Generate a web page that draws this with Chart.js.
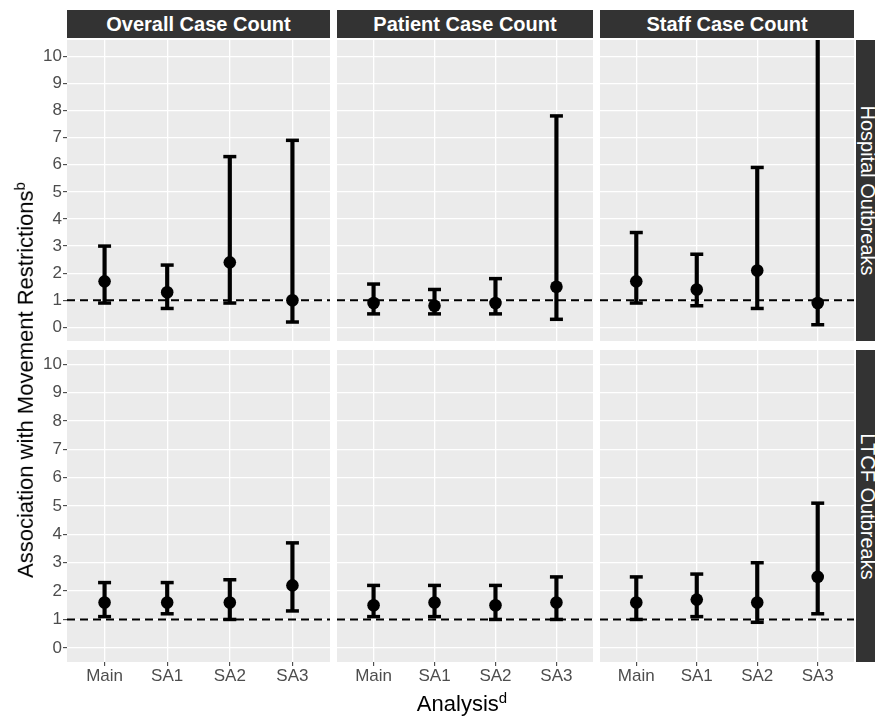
<!DOCTYPE html>
<html>
<head>
<meta charset="utf-8">
<script src="https://cdn.jsdelivr.net/npm/chart.js@4.4.1/dist/chart.umd.min.js"></script>
<style>
  body { margin: 0; background: #fff; }
  #wrap { position: relative; width: 875px; height: 717px; overflow: hidden; font-family: "Liberation Sans", Arial, sans-serif; }
  .box { position: absolute; }
  .strip { position: absolute; background: #333333; color: #fff; display: flex; align-items: center; justify-content: center; white-space: nowrap; }
  .strip-top { font-weight: bold; font-size: 20px; }
  .strip-side { overflow: visible; }
  .strip-side span { display: block; transform: rotate(90deg); font-size: 20px; }
  .title { position: absolute; white-space: nowrap; color: #000; font-size: 22px; z-index: 5; }
  .title sup { font-size: 15px; }
</style>
</head>
<body>
<div id="wrap"></div>
<script>
// categories and facet labels
const categories = ["Main", "SA1", "SA2", "SA3"];
const columnTitles = ["Overall Case Count", "Patient Case Count", "Staff Case Count"];
const rowTitles = ["Hospital Outbreaks", "LTCF Outbreaks"];
const yTicks = [0, 1, 2, 3, 4, 5, 6, 7, 8, 9, 10];
const refValue = 1;

// Hospital outbreaks
const hospOverallEst = [1.7, 1.3, 2.4, 1.0];
const hospOverallLow = [0.9, 0.7, 0.9, 0.2];
const hospOverallHigh = [3.0, 2.3, 6.3, 6.9];
const hospPatientEst = [0.9, 0.8, 0.9, 1.5];
const hospPatientLow = [0.5, 0.5, 0.5, 0.3];
const hospPatientHigh = [1.6, 1.4, 1.8, 7.8];
const hospStaffEst = [1.7, 1.4, 2.1, 0.9];
const hospStaffLow = [0.9, 0.8, 0.7, 0.1];
const hospStaffHigh = [3.5, 2.7, 5.9, 12.0];

// LTCF outbreaks
const ltcfOverallEst = [1.6, 1.6, 1.6, 2.2];
const ltcfOverallLow = [1.1, 1.2, 1.0, 1.3];
const ltcfOverallHigh = [2.3, 2.3, 2.4, 3.7];
const ltcfPatientEst = [1.5, 1.6, 1.5, 1.6];
const ltcfPatientLow = [1.1, 1.1, 1.0, 1.0];
const ltcfPatientHigh = [2.2, 2.2, 2.2, 2.5];
const ltcfStaffEst = [1.6, 1.7, 1.6, 2.5];
const ltcfStaffLow = [1.0, 1.1, 0.9, 1.2];
const ltcfStaffHigh = [2.5, 2.6, 3.0, 5.1];

const panels = [
    [[hospOverallEst, hospOverallLow, hospOverallHigh], [hospPatientEst, hospPatientLow, hospPatientHigh], [hospStaffEst, hospStaffLow, hospStaffHigh]],
    [[ltcfOverallEst, ltcfOverallLow, ltcfOverallHigh], [ltcfPatientEst, ltcfPatientLow, ltcfPatientHigh], [ltcfStaffEst, ltcfStaffLow, ltcfStaffHigh]]
];

// layout (pixels)
const colX = [[67, 330], [337, 593], [600, 854]];
const rowY = [[40, 341], [350, 662]];
const rowRange = [[-0.5, 10.6], [-0.5, 10.5]];
const FONT = "'Liberation Sans', Arial, sans-serif";

const wrap = document.getElementById("wrap");

function addDiv(cls, left, top, width, height, html) {
    const d = document.createElement("div");
    d.className = cls;
    d.style.left = left + "px";
    d.style.top = top + "px";
    if (width != null) d.style.width = width + "px";
    if (height != null) d.style.height = height + "px";
    d.innerHTML = html || "";
    wrap.appendChild(d);
    return d;
}

// grey panel + dashed reference line
const panelPlugin = {
    id: "panelBg",
    beforeDraw(chart) {
        const { ctx, chartArea: a } = chart;
        ctx.save();
        ctx.fillStyle = "#EBEBEB";
        ctx.fillRect(a.left, a.top, a.right - a.left, a.bottom - a.top);
        ctx.restore();
    },
    beforeDatasetsDraw(chart) {
        const { ctx, chartArea: a, scales } = chart;
        const y = scales.y.getPixelForValue(refValue);
        ctx.save();
        ctx.strokeStyle = "#000";
        ctx.lineWidth = 2;
        ctx.setLineDash([8, 5]);
        ctx.beginPath();
        ctx.moveTo(a.left, y);
        ctx.lineTo(a.right, y);
        ctx.stroke();
        ctx.restore();
    }
};

function makePanel(row, col) {
    const [est, low, high] = panels[row][col];
    const left = col === 0 ? 0 : colX[col][0];
    const top = rowY[row][0];
    const right = colX[col][1];
    const bottom = row === 1 ? 690 : rowY[row][1];
    const box = addDiv("box", left, top, right - left, bottom - top);
    const canvas = document.createElement("canvas");
    box.appendChild(canvas);

    const idx = categories.map((c, i) => i);
    const showX = row === 1;
    const showY = col === 0;

    new Chart(canvas, {
        type: "scatter",
        data: {
            datasets: [
                {
                    type: "scatter",
                    data: idx.map(i => ({ x: i, y: est[i] })),
                    pointRadius: 6.3,
                    pointBackgroundColor: "#000",
                    pointBorderWidth: 0,
                    order: 0
                },
                {
                    type: "scatter",
                    data: idx.flatMap(i => [{ x: i, y: low[i] }, { x: i, y: high[i] }]),
                    pointStyle: "line",
                    pointRadius: 6.5,
                    pointBorderColor: "#000",
                    pointBorderWidth: 3.5,
                    order: 1
                },
                {
                    type: "bar",
                    data: idx.map(i => ({ x: i, y: [low[i], high[i]] })),
                    backgroundColor: "#000",
                    barThickness: 3.5,
                    clip: 0,
                    order: 2
                }
            ]
        },
        options: {
            responsive: true,
            maintainAspectRatio: false,
            animation: false,
            events: [],
            layout: { padding: 0, autoPadding: false },
            plugins: { legend: { display: false }, tooltip: { enabled: false } },
            scales: {
                x: {
                    type: "linear",
                    min: -0.6,
                    max: 3.6,
                    offset: false,
                    afterBuildTicks: s => { s.ticks = idx.map(i => ({ value: i })); },
                    afterFit: s => {
                        s.height = showX ? 28 : 0;
                        s.paddingLeft = 0;
                        s.paddingRight = 0;
                    },
                    grid: { color: "#fff", lineWidth: 1.3, offset: false, drawTicks: showX, tickLength: 4, tickColor: "#333333", tickWidth: 1 },
                    border: { display: false },
                    ticks: {
                        display: showX, padding: 0, color: "#4D4D4D", maxRotation: 0, autoSkip: false,
                        font: { family: FONT, size: 17 },
                        callback: v => categories[v]
                    }
                },
                y: {
                    type: "linear",
                    min: rowRange[row][0],
                    max: rowRange[row][1],
                    afterBuildTicks: s => { s.ticks = yTicks.map(v => ({ value: v })); },
                    afterFit: s => {
                        s.width = showY ? colX[0][0] : 0;
                        s.paddingTop = 0;
                        s.paddingBottom = 0;
                    },
                    grid: { color: "#fff", lineWidth: 1.3, drawTicks: showY, tickLength: 4, tickColor: "#333333", tickWidth: 1 },
                    border: { display: false },
                    ticks: {
                        display: showY, padding: 1, color: "#4D4D4D",
                        font: { family: FONT, size: 17 }
                    }
                }
            }
        },
        plugins: [panelPlugin]
    });
}

document.addEventListener("DOMContentLoaded", () => {
    // column strips
    columnTitles.forEach((t, c) => {
        addDiv("strip strip-top", colX[c][0], 10, colX[c][1] - colX[c][0], 28, t);
    });
    // row strips (cut by the right edge)
    rowTitles.forEach((t, r) => {
        addDiv("strip strip-side", 856, rowY[r][0], 22, rowY[r][1] - rowY[r][0], "<span>" + t + "</span>");
    });

    for (let r = 0; r < 2; r++) {
        for (let c = 0; c < 3; c++) makePanel(r, c);
    }

    // axis titles
    const yt = addDiv("title", 25, 380, null, null, "Association with Movement Restrictions<sup>b</sup>");
    yt.style.transform = "translate(-50%, -50%) rotate(-90deg)";
    const xt = addDiv("title", 462, 703, null, null, "Analysis<sup>d</sup>");
    xt.style.transform = "translate(-50%, -50%)";
});
</script>
</body>
</html>
